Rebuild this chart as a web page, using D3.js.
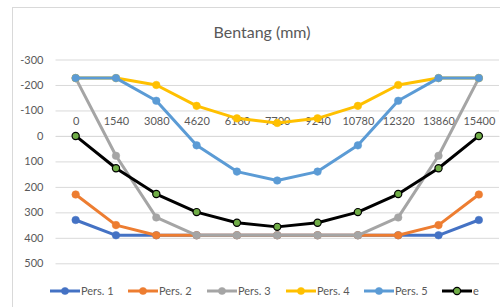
<!DOCTYPE html>
<html><head><meta charset="utf-8">
<script src="https://cdn.jsdelivr.net/npm/d3@7"></script>
<style>body{margin:0;background:#fff}svg{display:block;font-family:Lato,"Open Sans",sans-serif}</style>
</head><body>
<svg id="c" width="500" height="307"></svg>
<script>
const categories = ["0","1540","3080","4620","6160","7700","9240","10780","12320","13860","15400"];
const yTicks = [-300,-200,-100,0,100,200,300,400,500];
const pers1 = [330,390,390,390,390,390,390,390,390,390,330];
const pers2 = [230,350,390,390,390,390,390,390,390,350,230];
const pers3 = [-227,78,320,390,390,390,390,390,320,78,-227];
const pers4 = [-227,-227,-200,-118,-69,-51,-69,-118,-200,-227,-227];
const pers5 = [-227,-227,-138,37,140,175,140,37,-138,-227,-227];
const eVals = [0,127,228,299,341,357,341,299,228,127,0];
const seriesNames = ["Pers. 1","Pers. 2","Pers. 3","Pers. 4","Pers. 5","e"];
const seriesColors = ["#4472C4","#ED7D31","#A5A5A5","#FFC000","#5B9BD5","#000000"];

const series = [pers1,pers2,pers3,pers4,pers5,eVals].map((v,i)=>({name:seriesNames[i],color:seriesColors[i],values:v}));

const svg = d3.select("#c");
const txt = "#595959";
svg.append("rect").attr("x",12.5).attr("y",7.5).attr("width",600).attr("height",400)
  .attr("fill","#fff").attr("stroke","#D9D9D9");

const x = d3.scalePoint().domain(categories).range([55.5,499]).padding(0.5);
const y = d3.scaleLinear().domain([-300,500]).range([59.5,263.3]);

svg.append("text").attr("x",262).attr("y",37.5).attr("text-anchor","middle")
  .attr("font-size",16).attr("fill",txt).text("Bentang (mm)");

const yAx = svg.append("g").attr("transform","translate(55.5,0)")
  .call(d3.axisLeft(y).tickValues(yTicks).tickSize(-443.5).tickPadding(12).tickFormat(d=>String(d)));
yAx.select(".domain").remove();
yAx.selectAll("line").attr("stroke","#D9D9D9").attr("stroke-width",1);
yAx.selectAll("text").attr("fill",txt).attr("font-size",11).attr("font-family","Lato,sans-serif");

const xAx = svg.append("g").attr("transform",`translate(0,${y(0)})`)
  .call(d3.axisTop(x).tickSize(0).tickPadding(11));
xAx.select(".domain").attr("stroke","#D9D9D9");
xAx.selectAll("text").attr("fill",txt).attr("font-size",11).attr("font-family","Lato,sans-serif");

const line = d3.line().x((d,i)=>x(categories[i])).y(d=>y(d));
series.forEach(s=>{
  const g = svg.append("g");
  g.append("path").attr("d",line(s.values)).attr("fill","none").attr("stroke",s.color)
    .attr("stroke-width",3).attr("stroke-linejoin","round");
  g.selectAll("circle").data(s.values).enter().append("circle")
    .attr("cx",(d,i)=>x(categories[i])).attr("cy",d=>y(d)).attr("r",s.name==="e"?3.6:3.8)
    .attr("fill",s.name==="e"?"#70AD47":s.color)
    .attr("stroke",s.name==="e"?"#000":s.color).attr("stroke-width",s.name==="e"?1.2:0.5);
});

const legX = [50,128,207,286,364,442];
const ly = 291;
series.forEach((s,i)=>{
  const g = svg.append("g");
  g.append("line").attr("x1",legX[i]).attr("x2",legX[i]+30).attr("y1",ly).attr("y2",ly)
    .attr("stroke",s.color).attr("stroke-width",3);
  g.append("circle").attr("cx",legX[i]+15).attr("cy",ly).attr("r",3.6)
    .attr("fill",s.name==="e"?"#70AD47":s.color).attr("stroke",s.name==="e"?"#000":s.color)
    .attr("stroke-width",s.name==="e"?1.2:0.5);
  g.append("text").attr("x",legX[i]+31).attr("y",ly+4).attr("font-size",11).attr("fill",txt).text(s.name);
});
</script>
</body></html>
